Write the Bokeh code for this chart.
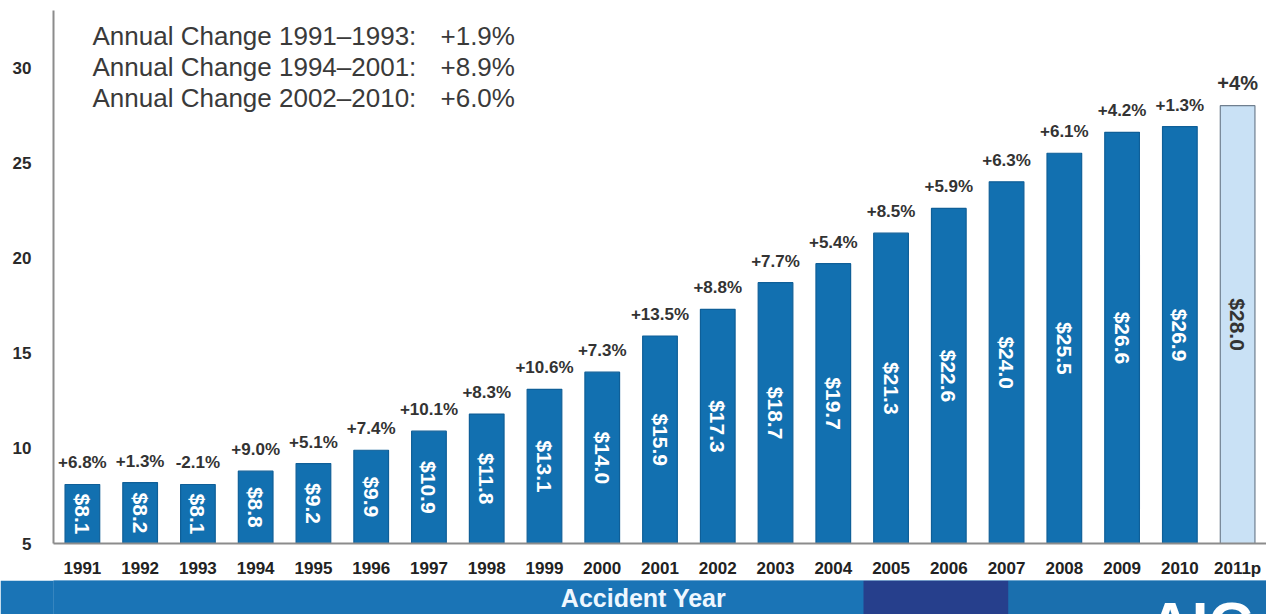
import math
from bokeh.plotting import figure
from bokeh.models import ColumnDataSource, Label, FactorRange, Range1d
from bokeh.layouts import column
from bokeh.embed import file_html
from bokeh.resources import INLINE
from bokeh.core.properties import value

# ---- data ----
years = ["1991", "1992", "1993", "1994", "1995", "1996", "1997", "1998", "1999", "2000",
         "2001", "2002", "2003", "2004", "2005", "2006", "2007", "2008", "2009", "2010", "2011p"]
costs = [8.1, 8.2, 8.1, 8.8, 9.2, 9.9, 10.9, 11.8, 13.1, 14.0,
         15.9, 17.3, 18.7, 19.7, 21.3, 22.6, 24.0, 25.5, 26.6, 26.9, 28.0]
changes = ["+6.8%", "+1.3%", "-2.1%", "+9.0%", "+5.1%", "+7.4%", "+10.1%", "+8.3%", "+10.6%", "+7.3%",
           "+13.5%", "+8.8%", "+7.7%", "+5.4%", "+8.5%", "+5.9%", "+6.3%", "+6.1%", "+4.2%", "+1.3%", "+4%"]
projected = [False] * 20 + [True]
summary_labels = ["Annual Change 1991\u20131993:", "Annual Change 1994\u20132001:", "Annual Change 2002\u20132010:"]
summary_values = ["+1.9%", "+8.9%", "+6.0%"]
y_ticks = [5, 10, 15, 20, 25, 30]
x_title = "Accident Year"

BASE = 5
TOP = 33.0
FONT = "Liberation Sans"
BAR = "#1270b0"
BAR_LINE = "#0f5f98"
PROJ = "#c9e1f5"
PROJ_LINE = "#6f7f8f"

fill = [PROJ if p else BAR for p in projected]
line = [PROJ_LINE if p else BAR_LINE for p in projected]
tcol = ["#333333" if p else "white" for p in projected]
mid = [(BASE + c) / 2 for c in costs]
cost_txt = ["$%.1f" % c for c in costs]

src = ColumnDataSource(dict(x=years, top=costs, fill=fill, line=line, mid=mid,
                            cost_txt=cost_txt, chg=changes, tcol=tcol))
reg = ColumnDataSource(dict(x=years[:-1], top=costs[:-1], chg=changes[:-1]))
prj = ColumnDataSource(dict(x=years[-1:], top=costs[-1:], chg=changes[-1:]))

W = 1266
LB = 53
p = figure(width=W, height=580, x_range=FactorRange(*years, range_padding=0),
           y_range=Range1d(BASE, TOP), output_backend="svg", toolbar_location=None,
           min_border_left=LB, min_border_right=0, min_border_top=10, min_border_bottom=30)
p.outline_line_color = None
p.xgrid.grid_line_color = None
p.ygrid.grid_line_color = None

p.vbar(x="x", top="top", bottom=BASE, width=0.6, source=src,
       fill_color="fill", line_color="line", line_width=1.2)

p.text(x="x", y="mid", text="cost_txt", source=src, angle=-math.pi / 2,
       text_align="center", text_baseline="middle", text_color="tcol",
       text_font=value(FONT), text_font_style="bold", text_font_size="21px")

p.text(x="x", y="top", text="chg", source=reg, y_offset=-12,
       text_align="center", text_baseline="bottom", text_color="#333333",
       text_font=value(FONT), text_font_style="bold", text_font_size="17px")
p.text(x="x", y="top", text="chg", source=prj, y_offset=-12,
       text_align="center", text_baseline="bottom", text_color="#333333",
       text_font=value(FONT), text_font_style="bold", text_font_size="20px")

for i, (lab, val) in enumerate(zip(summary_labels, summary_values)):
    p.add_layout(Label(x=0, y=TOP, x_offset=39, y_offset=-25 - 31 * i, text=lab,
                       text_baseline="middle", text_font=FONT, text_font_size="26px",
                       text_color="#3a3a3a"))
    p.add_layout(Label(x=0, y=TOP, x_offset=387, y_offset=-25 - 31 * i, text=val,
                       text_baseline="middle", text_font=FONT, text_font_size="26px",
                       text_color="#3a3a3a"))

p.yaxis.ticker = y_ticks
p.yaxis.axis_line_color = "#8c8c8c"
p.yaxis.axis_line_width = 2
p.yaxis.major_tick_line_color = None
p.yaxis.minor_tick_line_color = None
p.yaxis.major_label_standoff = 16
p.yaxis.major_label_text_font = FONT
p.yaxis.major_label_text_font_style = "bold"
p.yaxis.major_label_text_font_size = "17px"
p.yaxis.major_label_text_color = "#2a2a2a"

p.xaxis.axis_line_color = "#8c8c8c"
p.xaxis.axis_line_width = 2
p.xaxis.major_tick_line_color = None
p.xaxis.major_label_standoff = 9
p.xaxis.major_label_text_font = FONT
p.xaxis.major_label_text_font_style = "bold"
p.xaxis.major_label_text_font_size = "17px"
p.xaxis.major_label_text_color = "#222222"

# ---- bottom banner (x in figure pixels) ----
BH = 34
band = figure(width=W, height=BH, x_range=Range1d(LB, W), y_range=Range1d(0, BH),
              x_axis_type=None, y_axis_type=None, output_backend="svg", toolbar_location=None,
              min_border_left=LB, min_border_right=0, min_border_top=0, min_border_bottom=0)
band.outline_line_color = None
band.border_fill_color = "#1a74b6"
band.background_fill_color = "#1a74b6"
band.grid.visible = False
band.quad(left=[LB - 2, 863, 1008], right=[863, 1008, W], bottom=0, top=BH,
          fill_color=["#1a74b6", "#263f8c", "#1a6fae"], line_color=None)
band.add_layout(Label(x=643, y=17, text=x_title, text_align="center", text_baseline="middle",
                      text_font=FONT, text_font_style="bold", text_font_size="25px",
                      text_color="#eef7ff"))
band.add_layout(Label(x=1148, y=25, text="AIG", text_align="left", text_baseline="top",
                      text_font=FONT, text_font_style="bold", text_font_size="60px",
                      text_color="white"))

layout = column(p, band, spacing=0)
open("out.html", "w").write(file_html(layout, INLINE))
